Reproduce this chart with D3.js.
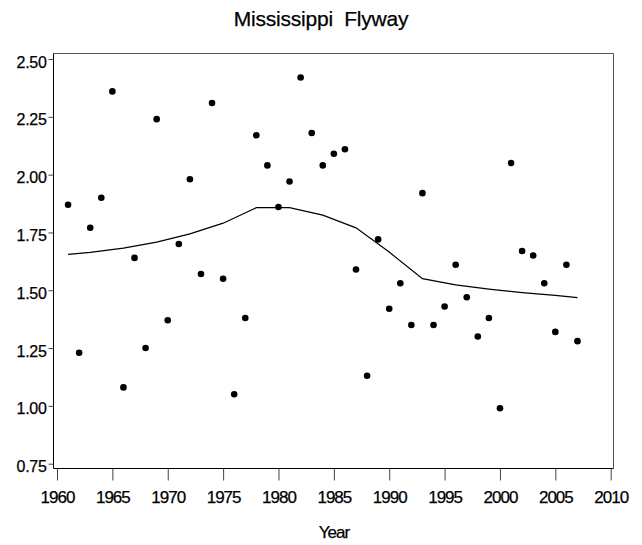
<!DOCTYPE html>
<html><head><meta charset="utf-8">
<script src="https://cdn.jsdelivr.net/npm/d3@7/dist/d3.min.js"></script>
<style>body{margin:0;background:#fff}svg{display:block}text{font-family:"Liberation Sans",Arial,sans-serif;fill:#000;stroke:#000;stroke-width:0.25px}</style>
</head><body>
<script>
const title = "Mississippi  Flyway";
const xLabel = "Year";
const years = d3.range(1961, 2008);
const values = [1.87,1.23,1.77,1.90,2.36,1.08,1.64,1.25,2.24,1.37,
                1.70,1.98,1.57,2.31,1.55,1.05,1.38,2.17,2.04,1.86,
                1.97,2.42,2.18,2.04,2.09,2.11,1.59,1.13,1.72,1.42,
                1.53,1.35,1.92,1.35,1.43,1.61,1.47,1.30,1.38,0.99,
                2.05,1.67,1.65,1.53,1.32,1.61,1.28];
const smoothYears = [1961,1963,1966,1969,1972,1975,1978,1981,1984,1987,1990,1993,1996,1999,2002,2005,2007];
const smoothValues = [1.655,1.664,1.682,1.708,1.744,1.79,1.857,1.857,1.825,1.77,1.665,1.55,1.523,1.505,1.49,1.478,1.468];
const xTicks = d3.range(1960, 2011, 5);
const yTicks = [0.75,1.00,1.25,1.50,1.75,2.00,2.25,2.50];

const W = 642, H = 545;
const svg = d3.select("body").append("svg").attr("width", W).attr("height", H);
const x = d3.scaleLinear().domain([1960, 2010]).range([57, 610.7]);
const y = d3.scaleLinear().domain([0.75, 2.5]).range([463.7, 59]);

// frame
svg.append("line").attr("x1",53.5).attr("x2",613.5).attr("y1",53.5).attr("y2",53.5).attr("stroke","#555");
svg.append("line").attr("x1",613.5).attr("x2",613.5).attr("y1",53.5).attr("y2",468.5).attr("stroke","#555");
svg.append("line").attr("x1",53.5).attr("x2",53.5).attr("y1",53.5).attr("y2",468.5).attr("stroke","#000");
svg.append("line").attr("x1",53.5).attr("x2",613.5).attr("y1",468.5).attr("y2",468.5).attr("stroke","#000");

// x axis
const xa = svg.append("g").attr("transform","translate(0,468.5)")
  .call(d3.axisBottom(x).tickValues(xTicks).tickFormat(d3.format("d")).tickSize(12).tickPadding(10));
xa.select(".domain").remove();
xa.selectAll("line").attr("stroke","#444");
xa.selectAll("text").attr("font-size",17).attr("letter-spacing","-1px").attr("font-family","Liberation Sans, Arial, sans-serif").attr("fill","#000");

// y axis
const ya = svg.append("g").attr("transform","translate(53.5,0)")
  .call(d3.axisLeft(y).tickValues(yTicks).tickFormat(d3.format(".2f")).tickSize(5).tickPadding(2));
ya.select(".domain").remove();
ya.selectAll("line").attr("stroke","#444");
ya.selectAll("text").attr("font-size",16).attr("dy","0.5em").attr("letter-spacing","-0.3px").attr("font-family","Liberation Sans, Arial, sans-serif").attr("fill","#000");

// smooth line
const lineData = smoothYears.map((d,i)=>[d, smoothValues[i]]);
svg.append("path").datum(lineData)
  .attr("d", d3.line().x(d=>x(d[0])).y(d=>y(d[1])))
  .attr("fill","none").attr("stroke","#000").attr("stroke-width",1.2);

// points
svg.append("g").selectAll("circle").data(years.map((d,i)=>[d, values[i]])).join("circle")
  .attr("cx", d=>x(d[0])).attr("cy", d=>y(d[1])).attr("r", 3.3).attr("fill","#000");

// titles
svg.append("text").attr("x", 321).attr("y", 25.5).attr("text-anchor","middle")
  .attr("font-size",21).attr("letter-spacing","-0.2px").style("white-space","pre").text(title);
svg.append("text").attr("x", 334).attr("y", 538).attr("text-anchor","middle")
  .attr("font-size",17).attr("letter-spacing","-1px").text(xLabel);
</script>
</body></html>
